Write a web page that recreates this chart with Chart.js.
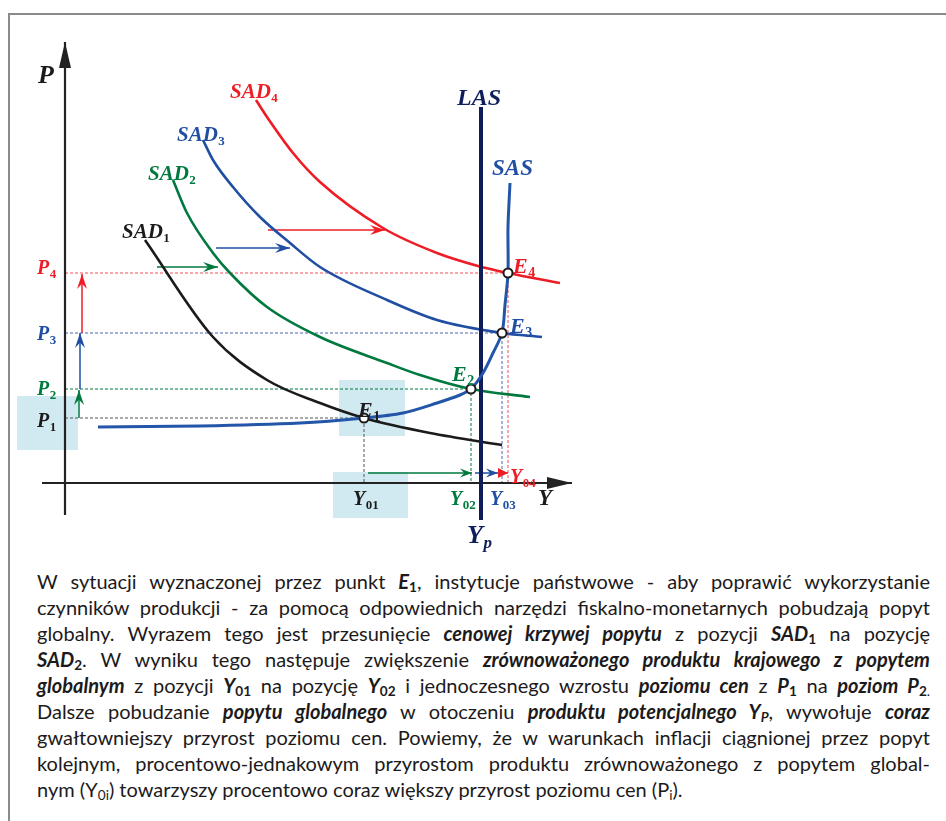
<!DOCTYPE html>
<html lang="pl">
<head>
<meta charset="utf-8">
<script src="https://cdn.jsdelivr.net/npm/chart.js@4.4.1/dist/chart.umd.min.js"></script>
<style>
  body { margin: 0; background: #fff; width: 946px; height: 821px; overflow: hidden; position: relative; }
  .frame { position: absolute; left: 8px; top: 13px; width: 960px; height: 840px;
           border-left: 2px solid #8a8a8a; border-top: 2px solid #8a8a8a; }
  #chart { position: absolute; left: 0; top: 0; }
  .text { position: absolute; left: 37px; top: 568px; width: 893px; color: #1c1a1b;
          font-family: Lato, "Open Sans", sans-serif; font-size: 20px; line-height: 26px; }
  .line { text-align: justify; text-align-last: justify; }
  .line.last { text-align-last: left; }
  .bi { font-weight: 700; font-style: italic; }
  .s { font-size: 0.68em; vertical-align: -0.22em; line-height: 0; font-style: normal; }
</style>
</head>
<body>
<div class="frame"></div>
<canvas id="chart" width="946" height="560"></canvas>
<div class="text">
  <div class="line">W sytuacji wyznaczonej przez punkt <span class="bi">E<span class="s">1</span></span>, instytucje państwowe - aby poprawić wykorzystanie</div>
  <div class="line">czynników produkcji - za pomocą odpowiednich narzędzi fiskalno-monetarnych pobudzają popyt</div>
  <div class="line">globalny. Wyrazem tego jest przesunięcie <span class="bi">cenowej krzywej popytu</span> z pozycji <span class="bi">SAD<span class="s">1</span></span> na pozycję</div>
  <div class="line"><span class="bi">SAD<span class="s">2</span></span>. W wyniku tego następuje zwiększenie <span class="bi">zrównoważonego produktu krajowego z popytem</span></div>
  <div class="line"><span class="bi">globalnym</span> z pozycji <span class="bi">Y<span class="s">01</span></span> na pozycję <span class="bi">Y<span class="s">02</span></span> i jednoczesnego wzrostu <span class="bi">poziomu cen</span> z <span class="bi">P<span class="s">1</span></span> na <span class="bi">poziom P<span class="s">2</span></span><span class="s">.</span></div>
  <div class="line">Dalsze pobudzanie <span class="bi">popytu globalnego</span> w otoczeniu <span class="bi">produktu potencjalnego Y<span class="s" style="font-style:italic">P</span></span>, wywołuje <span class="bi">coraz</span></div>
  <div class="line">gwałtowniejszy przyrost poziomu cen. Powiemy, że w warunkach inflacji ciągnionej przez popyt</div>
  <div class="line">kolejnym, procentowo-jednakowym przyrostom produktu zrównoważonego z popytem global-</div>
  <div class="line last">nym (Y<span class="s">0i</span>) towarzyszy procentowo coraz większy przyrost poziomu cen (P<span class="s">i</span>).</div>
</div>

<script>
const RED = '#ee1c25';
const GREEN = '#00793f';
const BLUE = '#1f4ea3';
const BLACK = '#1b1b1b';
const NAVY = '#0f1e5a';

// demand curves SAD1..SAD4 (Y, P)
const SAD1_Y = [8.0, 14.8, 20.2, 25.5, 29.9, 36.5, 43.7];
const SAD1_P = [24.3, 14.6, 10.3, 8.0, 6.5, 5.0, 3.8];
const SAD2_Y = [10.8, 12.2, 14.8, 16.5, 20.2, 25.5, 32.2, 35.5, 40.6, 46.5];
const SAD2_P = [30.3, 27.0, 23.0, 21.0, 17.6, 14.6, 12.0, 10.8, 9.4, 8.6];
const SAD3_Y = [13.8, 14.8, 16.8, 19.5, 22.5, 25.5, 32.2, 37.2, 43.7, 47.7];
const SAD3_P = [34.3, 32.3, 29.6, 26.6, 24.0, 21.6, 18.3, 16.3, 15.0, 14.6];
const SAD4_Y = [19.1, 20.2, 22.8, 25.5, 31.8, 37.2, 41.3, 44.3, 49.5];
const SAD4_P = [38.3, 36.6, 33.0, 30.1, 25.5, 23.0, 21.7, 21.0, 20.0];

// short-run supply SAS
const SAS_Y = [3.3, 13.5, 23.5, 29.9, 33.8, 37.2, 39.5, 40.6, 41.8, 42.8, 43.7, 44.0, 44.3, 44.3, 44.5];
const SAS_P = [5.6, 5.7, 6.0, 6.5, 7.0, 8.0, 8.8, 9.4, 11.0, 13.0, 15.0, 17.8, 21.0, 25.6, 30.0];

// long-run supply LAS = potential output Yp
const LAS_Y = 41.6;
const LAS_P = [-3.7, 37.6];

// equilibria E1..E4
const EQ_Y = [29.9, 40.6, 43.7, 44.3];
const EQ_P = [6.5, 9.4, 15.0, 21.0];
const EQ_COLORS = ['#555555', GREEN, '#4a67b5', '#f0505a'];

// axes extents
const AXIS_P = [-3.2, 44.1];
const AXIS_Y = [-2.3, 50.7];

// shift arrows: [fromY, fromP, toY, toP]
const SHIFT_ARROWS = [
  [9.2, 21.6, 15.3, 21.6],
  [15.1, 23.5, 22.5, 23.5],
  [20.3, 25.3, 32.0, 25.3],
  [1.4, 6.5, 1.4, 9.3],
  [1.5, 9.4, 1.5, 15.0],
  [1.7, 15.0, 1.7, 20.9],
  [30.3, 1.0, 40.7, 1.0],
  [41.0, 1.0, 43.3, 1.0],
  [43.4, 1.0, 44.3, 1.0]
];
const SHIFT_COLORS = [GREEN, BLUE, RED, GREEN, BLUE, RED, GREEN, BLUE, RED];

// highlighted regions: [Y1, P1, Y2, P2]
const HIGHLIGHTS = [
  [-4.8, 8.7, 1.3, 3.3],
  [27.4, 10.3, 34.0, 4.7],
  [26.8, 1.1, 34.3, -3.5]
];

function zip(xs, ys) {
  return xs.map((x, i) => ({ x: x, y: ys[i] }));
}

const SERIF = '"Liberation Serif", "Times New Roman", serif';

// label anchors in data units (left, baseline)
const LABELS = [
  { text: 'P', x: -2.7, y: 40.0, size: 26, color: BLACK },
  { text: 'SAD', sub: '1', x: 5.7, y: 24.5, size: 21, color: BLACK },
  { text: 'SAD', sub: '2', x: 8.3, y: 30.3, size: 21, color: GREEN },
  { text: 'SAD', sub: '3', x: 11.2, y: 34.2, size: 21, color: BLUE },
  { text: 'SAD', sub: '4', x: 16.5, y: 38.5, size: 21, color: RED },
  { text: 'P', sub: '4', x: -2.8, y: 20.9, size: 20, color: RED },
  { text: 'P', sub: '3', x: -2.8, y: 14.3, size: 20, color: BLUE },
  { text: 'P', sub: '2', x: -2.8, y: 8.8, size: 20, color: GREEN },
  { text: 'P', sub: '1', x: -2.8, y: 5.6, size: 20, color: BLACK },
  { text: 'LAS', x: 39.2, y: 37.8, size: 24, color: NAVY },
  { text: 'SAS', x: 42.7, y: 30.8, size: 23, color: BLUE },
  { text: 'E', sub: '1', x: 29.3, y: 6.6, size: 22, color: BLACK },
  { text: 'E', sub: '2', x: 38.7, y: 10.2, size: 22, color: GREEN },
  { text: 'E', sub: '3', x: 44.5, y: 15.0, size: 22, color: BLUE },
  { text: 'E', sub: '4', x: 44.8, y: 21.0, size: 22, color: RED },
  { text: 'Y', sub: '01', x: 28.8, y: -2.2, size: 20, color: BLACK },
  { text: 'Y', sub: '02', x: 38.5, y: -2.2, size: 20, color: GREEN },
  { text: 'Y', sub: '03', x: 42.5, y: -2.2, size: 20, color: BLUE },
  { text: 'Y', sub: '04', x: 44.5, y: 0.0, size: 20, color: RED },
  { text: 'Y', x: 47.3, y: -2.2, size: 23, color: BLACK },
  { text: 'Y', sub: 'p', subItalic: true, x: 40.2, y: -6.0, size: 26, color: NAVY }
];

function drawHead(ctx, x, y, ux, uy, len, half, notch, color) {
  const px = -uy, py = ux;
  const bx = x - ux * len, by = y - uy * len;
  ctx.fillStyle = color;
  ctx.beginPath();
  ctx.moveTo(x, y);
  ctx.lineTo(bx + px * half, by + py * half);
  ctx.lineTo(x - ux * len * (1 - notch), y - uy * len * (1 - notch));
  ctx.lineTo(bx - px * half, by - py * half);
  ctx.closePath();
  ctx.fill();
}

const diagramPlugin = {
  id: 'diagram',
  beforeDatasetsDraw(chart) {
    const { ctx, scales: { x, y } } = chart;
    ctx.save();
    ctx.fillStyle = 'rgba(190, 225, 235, 0.7)';
    HIGHLIGHTS.forEach(h => {
      const x1 = x.getPixelForValue(h[0]), y1 = y.getPixelForValue(h[1]);
      const x2 = x.getPixelForValue(h[2]), y2 = y.getPixelForValue(h[3]);
      ctx.fillRect(x1, y1, x2 - x1, y2 - y1);
    });
    ctx.restore();
  },
  afterDatasetsDraw(chart) {
    const ctx = chart.ctx;
    ctx.save();
    chart.data.datasets.forEach((ds, i) => {
      if (!ds.arrowHead) return;
      const pts = chart.getDatasetMeta(i).data;
      const tip = pts[pts.length - 1], prev = pts[pts.length - 2];
      const dx = tip.x - prev.x, dy = tip.y - prev.y;
      const d = Math.hypot(dx, dy) || 1;
      const h = ds.arrowHead;
      drawHead(ctx, tip.x, tip.y, dx / d, dy / d, h.len, h.half, h.notch, ds.borderColor);
    });
    ctx.restore();
  },
  afterDraw(chart) {
    const { ctx, scales: { x, y } } = chart;
    ctx.save();
    ctx.textAlign = 'left';
    ctx.textBaseline = 'alphabetic';
    LABELS.forEach(lab => {
      const px = x.getPixelForValue(lab.x), py = y.getPixelForValue(lab.y);
      ctx.fillStyle = lab.color;
      ctx.font = `italic bold ${lab.size}px ${SERIF}`;
      ctx.fillText(lab.text, px, py);
      if (lab.sub) {
        const w = ctx.measureText(lab.text).width;
        const subSize = Math.round(lab.size * 0.64);
        ctx.font = `${lab.subItalic ? 'italic ' : ''}bold ${subSize}px ${SERIF}`;
        ctx.fillText(lab.sub, px + w + 0.5, py + lab.size * 0.2);
      }
    });
    ctx.restore();
  }
};

function curve(points, color, width, extra) {
  return Object.assign({
    data: points,
    showLine: true,
    borderColor: color,
    backgroundColor: color,
    borderWidth: width,
    pointRadius: 0,
    tension: 0.4,
    fill: false
  }, extra || {});
}

const datasets = [];

// equilibrium points on top
datasets.push({
  data: zip(EQ_Y, EQ_P),
  showLine: false,
  pointRadius: 4.5,
  pointBackgroundColor: '#ffffff',
  pointBorderColor: BLACK,
  pointBorderWidth: 2,
  order: 0
});

// axes
datasets.push(curve([{ x: 0, y: AXIS_P[0] }, { x: 0, y: AXIS_P[1] }], '#222222', 2.2,
  { tension: 0, order: 5, arrowHead: { len: 26, half: 6, notch: 0 } }));
datasets.push(curve([{ x: AXIS_Y[0], y: 0 }, { x: AXIS_Y[1], y: 0 }], '#222222', 2.2,
  { tension: 0, order: 5, arrowHead: { len: 25, half: 6, notch: 0 } }));

// LAS
datasets.push(curve([{ x: LAS_Y, y: LAS_P[0] }, { x: LAS_Y, y: LAS_P[1] }], NAVY, 4,
  { tension: 0, order: 2 }));

// SAS
datasets.push(curve(zip(SAS_Y, SAS_P), '#2355a8', 3, { tension: 0.3, order: 1 }));

// SAD curves, smooth and monotone in Y
const SAD_SET = [[SAD1_Y, SAD1_P, BLACK], [SAD2_Y, SAD2_P, GREEN], [SAD3_Y, SAD3_P, BLUE], [SAD4_Y, SAD4_P, RED]];
SAD_SET.forEach(s => {
  datasets.push(curve(zip(s[0], s[1]), s[2], 2.6, { cubicInterpolationMode: 'monotone', order: 3 }));
});

// dashed guides from each equilibrium to the axes
EQ_Y.forEach((yv, i) => {
  datasets.push(curve([{ x: 0, y: EQ_P[i] }, { x: yv, y: EQ_P[i] }, { x: yv, y: 0 }],
    EQ_COLORS[i], 1, { tension: 0, borderDash: [3, 2], order: 6 }));
});

// shift arrows
SHIFT_ARROWS.forEach((a, i) => {
  const small = i >= 6;
  const head = i === 8
    ? { len: 10, half: 5, notch: 0 }
    : { len: small ? 12 : 15, half: small ? 4.5 : 5, notch: 0.35 };
  datasets.push(curve([{ x: a[0], y: a[1] }, { x: a[2], y: a[3] }], SHIFT_COLORS[i], 1.5,
    { tension: 0, order: 4, arrowHead: head }));
});

const chart = new Chart(document.getElementById('chart').getContext('2d'), {
  type: 'scatter',
  data: { datasets: datasets },
  options: {
    responsive: false,
    animation: false,
    events: [],
    layout: { padding: 0, autoPadding: false },
    plugins: { legend: { display: false }, tooltip: { enabled: false } },
    scales: {
      x: { type: 'linear', display: false, min: -6.5, max: 88.1 },
      y: { type: 'linear', display: false, min: -7.7, max: 48.3 }
    }
  },
  plugins: [diagramPlugin]
});
</script>
</body>
</html>
